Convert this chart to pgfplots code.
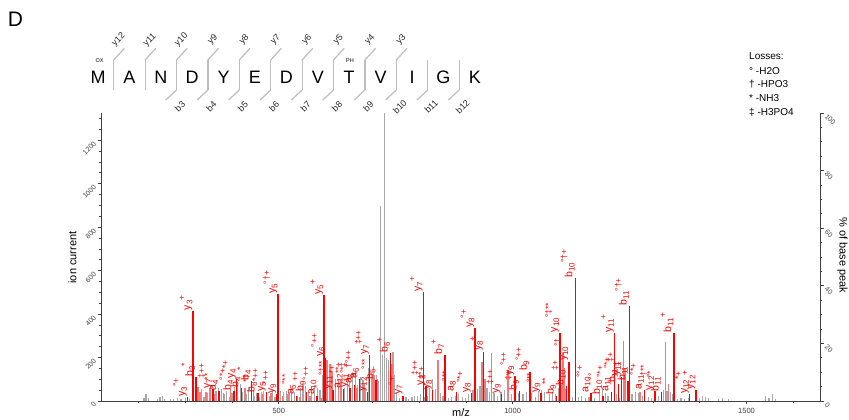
\documentclass[border=0pt]{standalone}
\usepackage{fontspec}
\setmainfont{Liberation Sans}
\usepackage{pgfplots}
\pgfplotsset{compat=1.18}
\definecolor{axgray}{HTML}{404040}
\definecolor{pkgray}{HTML}{A8A8A8}
\definecolor{seqgray}{HTML}{BDBDBD}
\definecolor{pinkred}{HTML}{F27A7A}
\definecolor{ionred}{HTML}{FF0000}
\newcommand{\ion}[3]{#1\raisebox{-0.4ex}{\fontsize{8}{8}\selectfont #2}\raisebox{1.0ex}{\fontsize{8.5}{8.5}\selectfont #3}}
\begin{document}
\begin{tikzpicture}[x=1pt,y=1pt]
\path[use as bounding box] (0,0) rectangle (849,420);
% panel letter
\node[font=\fontsize{21}{21}\selectfont] at (15.5,400.5) {D};
% peptide sequence
\foreach \L [count=\i] in {M,A,N,D,Y,E,D,V,T,V,I,G,K} {
  \node[font=\fontsize{18}{18}\selectfont, anchor=base, inner sep=0pt] at ({98+31.4*(\i-1)}, 336.7) {\L};
}
\foreach \k in {1,...,12} {
  \pgfmathsetmacro\xx{113.7+31.4*(\k-1)}
  \draw[seqgray, line width=1.2pt] (\xx,330) -- (\xx,360);
  \ifnum\k<11
    \draw[seqgray, line width=1.2pt] (\xx,360) -- ++(10.7,11.7);
    \pgfmathtruncatemacro\yy{13-\k}
    \node[rotate=45, font=\fontsize{9}{9}\selectfont, text=black!85, inner sep=0pt] at (\xx+5,380) {y\yy};
  \fi
  \ifnum\k>2
    \draw[seqgray, line width=1.2pt] (\xx,330) -- ++(-10.7,-10);
    \node[rotate=45, font=\fontsize{9}{9}\selectfont, text=black!85, inner sep=0pt] at (\xx+3.5,313.5) {b\k};
  \fi
}
\node[font=\fontsize{5.5}{5.5}\selectfont] at (99.5,359.5) {OX};
\node[font=\fontsize{5.5}{5.5}\selectfont] at (350,359.5) {PH};
% losses legend
\begin{scope}[every node/.style={anchor=base west, inner sep=0pt, font=\fontsize{10}{10}\selectfont}]
\node at (749,360) {Losses:};
\node at (749,345.5) {° -H2O};
\node at (749,332) {† -HPO3};
\node at (749,318.5) {* -NH3};
\node at (749,304.5) {‡ -H3PO4};
\end{scope}
% axis labels
\node[rotate=90, font=\fontsize{11}{11}\selectfont] at (72.5,162.5) {ion current};
\node[font=\fontsize{11}{11}\selectfont] at (461,7) {m/z};
\node[rotate=-90, font=\fontsize{11}{11}\selectfont] at (842.5,164.5) {\% of base peak};

\begin{axis}[
  at={(101pt,19pt)}, anchor=south west,
  width=719pt, height=288pt, scale only axis,
  xmin=120, xmax=1657, ymin=0, ymax=1325,
  axis x line*=bottom, axis y line*=left,
  xtick={500,1000,1500}, minor xtick={200,300,...,1600},
  ytick={0,200,...,1200}, minor ytick={50,100,...,1300},
  tick align=outside, major tick length=3.5pt, minor tick length=2pt,
  every tick/.style={axgray, line width=0.6pt},
  axis line style={axgray, line width=0.8pt},
  ticklabel style={font=\fontsize{7}{7}\selectfont, text=axgray},
  xticklabel style={font=\fontsize{7.5}{7.5}\selectfont},
  yticklabel style={rotate=45, anchor=east},
  /pgf/number format/assume math mode=true,
  /pgf/number format/1000 sep={},
  scaled ticks=false,
  clip=false,
]
% unassigned peaks (gray)
\addplot[ycomb, color=pkgray, line width=1.2pt] coordinates {
(212,12) (216,30) (221,15) (240,8) (246,18) (251,22) (256,8) (268,10) (275,9) (284,12) (291,8) (300,14) (305,18) (310,10)
(328,50) (334,55) (340,20) (347,35) (352,38) (360,25) (366,45) (372,60) (378,55) (384,30) (389,45) (395,20) (400,35)
(406,65) (412,70) (418,78) (423,40) (430,30) (436,65) (441,55) (447,25) (452,35) (458,20) (463,40) (468,45) (474,30)
(480,25) (486,45) (492,20) (504,45) (510,40) (516,48) (522,35) (528,55) (534,40) (540,25) (546,60) (552,80) (558,70)
(564,40) (570,65) (576,75) (582,60) (588,50) (593,120) (603,60) (609,70) (615,80) (621,100) (628,70) (633,85) (641,60)
(647,115) (652,90) (658,135) (664,140) (669,75) (675,110) (680,95) (686,60) (692,150) (699,130) (703,160) (709,120)
(713,90) (717,896) (721,210) (725.5,1325) (730,200) (735,190) (744,225) (747,120) (752,35) (758,15) (765,12) (772,20)
(778,10) (785,18) (790,25) (797,22) (803,30) (812,20) (818,25) (823,60) (829,100) (835,55) (846,35) (851,25) (862,15)
(870,20) (878,25) (885,30) (892,20) (899,15) (905,30) (915,50) (925,55) (930,70) (945,60) (950,40) (960,35) (967,25)
(975,40) (983,50) (990,45) (997,30) (1005,25) (1012,35) (1022,30) (1030,40) (1040,35) (1048,20) (1055,45) (1062,50)
(1068,40) (1078,30) (1085,35) (1092,30) (1098,60) (1105,75) (1112,55) (1120,40) (1128,20) (1140,18) (1148,25) (1155,15)
(1163,20) (1175,15) (1185,40) (1192,60) (1198,35) (1204,25) (1212,20) (1222,30) (1228,15) (1240,25) (1255,30) (1262,40)
(1270,35) (1277,25) (1290,20) (1297,15) (1312,25) (1318,35) (1323,50) (1330,45) (1338,40) (1342,30) (1352,10) (1360,12)
(1368,8) (1376,12) (1400,15) (1406,25) (1412,20) (1418,12) (1440,10) (1448,12) (1462,10) (1540,25) (1548,15) (1556,30) (1562,10)
};
% matched peaks without label (light red)
\addplot[ycomb, color=pinkred, line width=1.6pt] coordinates {
(327,66) (331,40) (345,40) (353,60) (363,30) (382,35) (397,55) (428,60) (446,45) (465,30) (484,35) (508,25) (520,30)
(527,45) (545,20) (567,25) (590,15) (603,190) (609,170) (614,140) (628,100) (633,95) (667,60) (682,80) (701,110)
(704,120) (711,100) (735,140) (742,170) (840,189) (934,181) (941,100) (955,220) (990,143) (1107,220) (1111,150)
(1237,276) (1240,150) (1327,273) (1333,80) (1272,40)
};
% labelled fragment ions: sticks
\addplot[ycomb, color=ionred, line width=1.6pt] table[row sep=\\] {
x y\\ 305 18\\ 317 415\\ 323 110\\ 359 55\\ 372 45\\ 404 45\\ 410 100\\ 420 60\\ 442 90\\ 455 35\\ 474 40\\
496 30\\ 498.5 490\\ 538 25\\ 559 40\\ 582 25\\ 596.6 487\\ 600 200\\ 616 50\\ 638 55\\ 652 60\\ 662 75\\
673 100\\ 690 40\\ 694 211\\ 708 95\\ 739 220\\ 766 25\\ 809 500\\ 815 70\\ 829 50\\ 855 211\\ 880 40\\
912 35\\ 920 334\\ 938 227\\ 976 30\\ 1005 115\\ 1015 45\\ 1037 135\\ 1061 35\\ 1094 25\\ 1101 314\\
1115 70\\ 1120 181\\ 1134 564\\ 1168 37\\ 1193 25\\ 1211 40\\ 1218 311\\ 1226 80\\ 1233 112\\ 1247 90\\
1250 437\\ 1282 50\\ 1304 45\\ 1318 40\\ 1345 314\\ 1378 30\\ 1392 50\\
};
% labelled fragment ions: labels
\addplot[draw=none, point meta=explicit symbolic,
  nodes near coords={\pgfplotspointmeta},
  every node near coord/.append style={rotate=90, anchor=south west, inner sep=0.5pt,
    font=\fontsize{10.5}{10.5}\selectfont, text=red}] coordinates {
(305,18) [\ion{y}{3}{°+}]
(317,415) [\ion{y}{3}{+}]
(323,110) [\ion{b}{3}{*}]
(359,55) [\ion{y}{7}{‡++}]
(372,45) [\ion{a}{4}{**}]
(404,45) [\ion{b}{4}{°*+}]
(410,100) [\ion{y}{4}{*+}]
(420,60) [\ion{b}{4}{}]
(442,90) [\ion{b}{4}{*}]
(455,35) [\ion{b}{8}{*†}]
(474,40) [\ion{y}{5}{*++}]
(496,30) [\ion{y}{9}{°++}]
(498.5,490) [\ion{y}{5}{°†+}]
(538,25) [\ion{a}{5}{°**}]
(559,40) [\ion{b}{9}{++}]
(582,25) [\ion{a}{10}{°++}]
(596.6,487) [\ion{y}{5}{+}]
(600,200) [\ion{y}{6}{°++}]
(616,50) [\ion{y}{11}{°‡**}]
(638,55) [\ion{a}{12}{*+}]
(652,60) [\ion{y}{11}{**+}]
(662,75) [\ion{a}{6}{°*‡}]
(673,100) [\ion{a}{6}{†°++}]
(690,40) [\ion{y}{12}{°}]
(694,211) [\ion{y}{7}{‡++}]
(708,95) [\ion{b}{5}{°**}]
(739,220) [\ion{b}{6}{+}]
(766,25) [\ion{y}{7}{°+}]
(809,500) [\ion{y}{7}{+}]
(815,70) [\ion{y}{8}{‡++}]
(829,50) [\ion{y}{8}{†*+}]
(855,211) [\ion{b}{7}{+}]
(880,40) [\ion{a}{8}{°**}]
(912,35) [\ion{y}{8}{°*+}]
(920,334) [\ion{y}{8}{°+}]
(938,227) [\ion{y}{8}{+}]
(976,30) [\ion{y}{9}{‡++}]
(1005,115) [\ion{y}{9}{°++}]
(1015,45) [\ion{b}{9}{‡+}]
(1037,135) [\ion{b}{9}{°++}]
(1061,35) [\ion{y}{9}{°**}]
(1094,25) [\ion{b}{9}{**}]
(1101,314) [\ion{y}{10}{°‡**}]
(1115,70) [\ion{b}{10}{‡+}]
(1120,181) [\ion{y}{10}{°†}]
(1134,564) [\ion{b}{10}{°†+}]
(1168,37) [\ion{a}{10}{°°+}]
(1193,25) [\ion{b}{10}{°°}]
(1211,40) [\ion{a}{11}{°*+}]
(1218,311) [\ion{y}{11}{+}]
(1226,80) [\ion{b}{11}{°*+}]
(1233,112) [\ion{y}{11}{‡+}]
(1247,90) [\ion{b}{11}{‡}]
(1250,437) [\ion{b}{11}{°†+}]
(1282,50) [\ion{a}{11}{°*+}]
(1304,45) [\ion{y}{12}{†**}]
(1318,40) [\ion{b}{11}{°*}]
(1345,314) [\ion{b}{11}{+}]
(1378,30) [\ion{y}{12}{*+}]
(1392,50) [\ion{y}{12}{+}]
};
\end{axis}
\begin{axis}[
  at={(101pt,19pt)}, anchor=south west,
  width=719pt, height=288pt, scale only axis,
  xmin=120, xmax=1657, ymin=0, ymax=100,
  axis x line=none, axis y line*=right,
  ytick={0,20,...,100}, minor ytick={5,10,...,95},
  tick align=outside, major tick length=3.5pt, minor tick length=2pt,
  every tick/.style={axgray, line width=0.6pt},
  axis line style={axgray, line width=0.8pt},
  ticklabel style={font=\fontsize{7}{7}\selectfont, text=axgray},
  yticklabel style={rotate=-45, anchor=west},
  /pgf/number format/assume math mode=true,
]
\addplot[draw=none] coordinates {(200,0) (1600,100)};
\end{axis}
\end{tikzpicture}
\end{document}
